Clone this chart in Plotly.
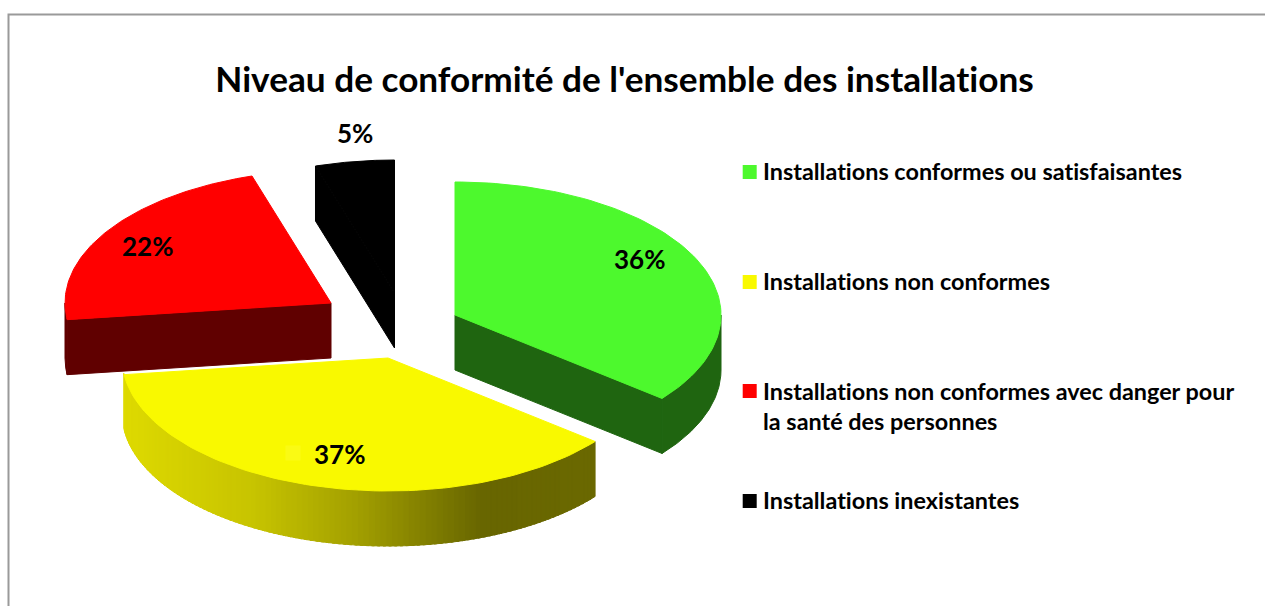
import numpy as np
import plotly.graph_objects as go

TITLE = "Niveau de conformité de l'ensemble des installations"
categories = ["Installations conformes ou satisfaisantes", "Installations non conformes",
              "Installations non conformes avec danger pour<br>la santé des personnes", "Installations inexistantes"]
values = [35.8, 37.2, 22.2, 4.8]
colors = ["#4DF92D", "#F9F900", "#FF0000", "#000000"]
side_colors = ["#1F6510", "#6B6600", "#600000", "#000000"]
centers_x = [455, 388, 331, 394.5]
centers_y = [315, 358, 303, 293]
label_x = [639, 339, 147, 355]
label_y = [259, 454, 246, 132.5]
legend_y = [171, 281, 406, 500]
RX, RY, DEPTH = 266, 133, 55
FONT = "Lato"

fig = go.Figure()

def poly(xs, ys, color):
    fig.add_trace(go.Scatter(x=list(xs), y=list(ys), mode="lines", fill="toself", fillcolor=color,
                             line=dict(color=color, width=1), hoverinfo="skip", showlegend=False))

def rim(cx, cy, a0, a1, n=90):
    t = np.radians(np.linspace(a0, a1, n))
    return cx + RX * np.sin(t), cy - RY * np.cos(t)

def lerp_color(x):
    stops_x = [125, 250, 350, 480, 594]
    stops_r = [222, 200, 165, 104, 107]
    r = int(np.interp(x, stops_x, stops_r))
    return f"rgb({r},{int(r*0.985)},0)"

shares = np.cumsum([0] + values) / sum(values) * 360
order = [3, 2, 0, 1]
for i in order:
    a0, a1 = shares[i], shares[i + 1]
    cx, cy = centers_x[i], centers_y[i]
    # side wall: only the part of the rim facing the viewer (90..270 degrees)
    w0, w1 = max(a0, 90), min(a1, 270)
    if w1 > w0:
        if i == 1:
            steps = np.linspace(w0, w1, 110)
            for s0, s1 in zip(steps[:-1], steps[1:]):
                ex, ey = rim(cx, cy, s0, s1 + 0.6, 4)
                poly(np.r_[ex, ex[::-1], ex[0]], np.r_[ey, ey[::-1] + DEPTH, ey[0]], lerp_color(ex.mean()))
        else:
            ex, ey = rim(cx, cy, w0, w1)
            poly(np.r_[ex, ex[::-1], ex[0]], np.r_[ey, ey[::-1] + DEPTH, ey[0]], side_colors[i])
    # radial cut faces visible from the front
    if i in (0, 2, 3):
        ang = a1 if i == 0 else a0
        rx_, ry_ = rim(cx, cy, ang, ang, 1)
        poly([cx, rx_[0], rx_[0], cx, cx], [cy, ry_[0], ry_[0] + DEPTH, cy + DEPTH, cy], side_colors[i])
    # top face
    ex, ey = rim(cx, cy, a0, a1)
    poly(np.r_[cx, ex, cx], np.r_[cy, ey, cy], colors[i])

# pale halo under the 37% label
fig.add_trace(go.Scatter(x=[293], y=[453], mode="markers", hoverinfo="skip", showlegend=False,
                         marker=dict(symbol="square", size=15, color="#FAFA14")))

# legend keys
fig.add_trace(go.Scatter(x=[749.7] * 4, y=[172, 282, 391, 501], mode="markers", hoverinfo="skip", showlegend=False,
                         marker=dict(symbol="square", size=14, color=colors)))

for name, y in zip(categories, legend_y):
    fig.add_annotation(x=761, y=y, text=name, showarrow=False, xanchor="left", align="left", yanchor="middle",
                       font=dict(family=FONT, size=23.4, color="#000000", weight="bold"))
for v, x, y in zip(values, label_x, label_y):
    fig.add_annotation(x=x, y=y, text=f"{round(v)}%", showarrow=False,
                       font=dict(family=FONT, size=26, color="#000000", weight="bold"))
fig.add_annotation(x=624, y=78, text=TITLE, showarrow=False, yshift=0,
                   font=dict(family=FONT, size=35.2, color="#000000", weight="bold"))

# chart frame, running off the right and bottom edges
fig.add_shape(type="path", path="M 8.5 606 L 8.5 14.5 L 1265 14.5", xref="x", yref="y",
              line=dict(color="#9A9A9A", width=2))

fig.update_xaxes(range=[0, 1265], visible=False, fixedrange=True)
fig.update_yaxes(range=[606, 0], visible=False, fixedrange=True)
fig.update_layout(width=1265, height=606, margin=dict(l=0, r=0, t=0, b=0), paper_bgcolor="white",
                  plot_bgcolor="white", showlegend=False)
fig.write_html("out.html", config={"displayModeBar": False},
               post_script="document.body.style.margin='0';"
                           "var s=document.createElement('style');"
                           "s.textContent='text{font-variant-ligatures:none !important;"
                           "font-feature-settings:\"liga\" 0,\"clig\" 0 !important;}';"
                           "document.head.appendChild(s);")
